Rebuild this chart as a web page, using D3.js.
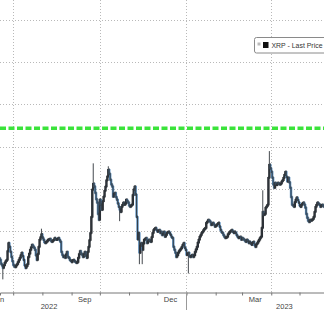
<!DOCTYPE html>
<html><head><meta charset="utf-8">
<script src="https://cdn.jsdelivr.net/npm/d3@7"></script>
<style>html,body{margin:0;padding:0;background:#fff;overflow:hidden}svg{display:block}</style>
</head><body>
<svg id="c" width="324" height="310"></svg>
<script>
// ---- data ----
const startDate = "2022-06-17";
const firstOpen = 0.335;
const closes = [
0.331,0.322,0.318,0.312,0.318,0.324,0.328,0.331,0.352,0.371,
0.362,0.350,0.338,0.328,0.319,0.316,0.314,0.318,0.321,0.326,
0.331,0.336,0.342,0.348,0.340,0.331,0.318,0.312,0.316,0.321,
0.338,0.346,0.355,0.361,0.367,0.363,0.360,0.355,0.342,0.331,
0.345,0.362,0.379,0.385,0.392,0.384,0.379,0.373,0.371,0.374,
0.376,0.379,0.380,0.381,0.376,0.374,0.377,0.379,0.383,0.380,
0.379,0.381,0.383,0.378,0.374,0.350,0.343,0.338,0.340,0.336,
0.344,0.350,0.338,0.336,0.331,0.329,0.326,0.330,0.331,0.328,
0.326,0.324,0.326,0.336,0.345,0.352,0.346,0.343,0.338,0.345,
0.350,0.341,0.336,0.350,0.362,0.378,0.395,0.433,0.498,0.512,
0.505,0.490,0.475,0.467,0.440,0.426,0.474,0.462,0.450,0.470,
0.481,0.495,0.505,0.520,0.529,0.545,0.535,0.521,0.510,0.505,
0.481,0.488,0.490,0.480,0.474,0.465,0.457,0.450,0.445,0.457,
0.462,0.467,0.462,0.465,0.474,0.470,0.467,0.460,0.457,0.460,
0.462,0.485,0.498,0.505,0.486,0.433,0.380,0.395,0.348,0.365,
0.371,0.355,0.370,0.379,0.381,0.383,0.371,0.375,0.379,0.376,
0.374,0.385,0.395,0.402,0.405,0.407,0.402,0.398,0.400,0.402,
0.395,0.398,0.390,0.393,0.398,0.386,0.390,0.395,0.397,0.398,
0.394,0.390,0.385,0.383,0.362,0.355,0.348,0.338,0.342,0.348,
0.352,0.355,0.358,0.362,0.367,0.371,0.360,0.355,0.343,0.345,
0.348,0.340,0.338,0.341,0.343,0.338,0.342,0.350,0.356,0.362,
0.372,0.379,0.386,0.390,0.395,0.398,0.402,0.405,0.407,0.419,
0.422,0.426,0.424,0.421,0.414,0.416,0.419,0.415,0.410,0.412,
0.414,0.417,0.419,0.410,0.402,0.397,0.395,0.390,0.386,0.383,
0.385,0.386,0.392,0.395,0.398,0.400,0.402,0.398,0.395,0.398,
0.395,0.390,0.386,0.383,0.385,0.386,0.379,0.383,0.381,0.379,
0.376,0.374,0.379,0.376,0.371,0.374,0.370,0.367,0.372,0.374,
0.366,0.362,0.368,0.371,0.375,0.379,0.383,0.386,0.407,0.445,
0.438,0.440,0.455,0.458,0.462,0.526,0.557,0.548,0.540,0.526,
0.510,0.502,0.514,0.510,0.510,0.514,0.512,0.510,0.512,0.517,
0.520,0.526,0.533,0.540,0.528,0.517,0.526,0.515,0.502,0.480,
0.462,0.460,0.457,0.468,0.474,0.479,0.473,0.467,0.460,0.457,
0.462,0.465,0.467,0.462,0.455,0.440,0.431,0.424,0.421,0.426,
0.425,0.426,0.428,0.433,0.445,0.457,0.462,0.467,0.464,0.462,
0.457,0.460,0.462,0.459,0.457
];
const wickHighs = [["2022-07-31",0.402],["2022-09-24",0.557],["2022-10-10",0.550],["2023-03-23",0.493],["2023-03-30",0.586]];
const wickLows  = [["2022-06-20",0.288],["2022-10-22",0.426],["2022-11-12",0.324],["2022-11-15",0.324],["2023-01-03",0.302]];
const gridValues = [0.3,0.4,0.5,0.6,0.7,0.8,0.9];
const levelLine = 0.643;
const monthTicks = ["2022-06-01","2022-07-01","2022-08-01","2022-09-01","2022-10-01","2022-11-01","2022-12-01","2023-01-01","2023-02-01","2023-03-01","2023-04-01","2023-05-01","2023-06-01"];
const gridDates = ["2022-07-01","2022-10-01","2023-01-01","2023-04-01"];
const monthLabels = [["Jun","2022-06-15"],["Sep","2022-09-15"],["Dec","2022-12-15"],["Mar","2023-03-15"]];
const yearLabels = [["2022","2022-08-08"],["2023","2023-04-15"]];
const yearBreaks = ["2023-01-01"];
const legendText = "XRP  -  Last Price";

// ---- build ----
const parse = d3.utcParse("%Y-%m-%d");
const t0 = parse(startDate);
const bars = closes.map((c,i)=>{
  const o = i===0 ? firstOpen : closes[i-1];
  return {date: d3.utcDay.offset(t0,i), open:o, close:c, high:Math.max(o,c), low:Math.min(o,c)};
});
const byKey = new Map(bars.map(b=>[d3.utcFormat("%Y-%m-%d")(b.date), b]));
wickHighs.forEach(([d,v])=>{const b=byKey.get(d); if(b) b.high=Math.max(b.high,v);});
wickLows.forEach(([d,v])=>{const b=byKey.get(d); if(b) b.low=Math.min(b.low,v);});

const W=324,H=310;
const svg=d3.select("#c");
const x=d3.scaleUtc().domain([parse("2022-06-17"),parse("2023-05-27")]).range([0,W]);
const y=d3.scaleLinear().domain([0.3,0.9]).range([273,20]);
const axisY=292.5;
const font="'Liberation Sans', Arial, sans-serif";

// grid
svg.append("g").selectAll("line").data(gridValues).join("line")
  .attr("x1",0).attr("x2",W).attr("y1",d=>Math.round(y(d))+0.5).attr("y2",d=>Math.round(y(d))+0.5)
  .attr("stroke","#b9b9b9").attr("stroke-width",1).attr("stroke-dasharray","1,2");
svg.append("g").selectAll("line").data(gridDates).join("line")
  .attr("x1",d=>Math.round(x(parse(d)))+0.5).attr("x2",d=>Math.round(x(parse(d)))+0.5)
  .attr("y1",0).attr("y2",axisY)
  .attr("stroke","#b9b9b9").attr("stroke-width",1).attr("stroke-dasharray","1,2");

// level line
svg.append("line").attr("x1",0).attr("x2",W).attr("y1",y(levelLine)).attr("y2",y(levelLine))
  .attr("stroke","#3be33b").attr("stroke-width",3.5).attr("stroke-dasharray","6,2.5");

// candles
const g=svg.append("g");
g.selectAll("rect").data(bars).join("rect")
  .attr("x",d=>x(d.date)-1.2).attr("width",2.4)
  .attr("y",d=>y(Math.max(d.open,d.close))-0.7)
  .attr("height",d=>Math.max(1,Math.abs(y(d.open)-y(d.close)))+1.4)
  .attr("fill",d=>d.close>=d.open?"#2a2e33":"#5b8fbf");
g.selectAll("line.w").data(bars).join("line").attr("class","w")
  .attr("x1",d=>x(d.date)).attr("x2",d=>x(d.date))
  .attr("y1",d=>y(d.high)-1.3).attr("y2",d=>y(d.low)+1.3)
  .attr("stroke","#30353b").attr("stroke-width",0.9);

// axis
const ax=d3.axisBottom(x).tickValues(monthTicks.map(parse)).tickSize(3).tickFormat("");
const axg=svg.append("g").attr("transform",`translate(0,${axisY})`).call(ax);
axg.select(".domain").attr("stroke","#777");
axg.selectAll(".tick line").attr("stroke","#777");
svg.append("g").selectAll("line").data(yearBreaks).join("line")
  .attr("x1",d=>Math.round(x(parse(d)))+0.5).attr("x2",d=>Math.round(x(parse(d)))+0.5)
  .attr("y1",axisY).attr("y2",H).attr("stroke","#999");
svg.append("g").selectAll("text").data(monthLabels).join("text")
  .attr("x",d=>x(parse(d[1]))).attr("y",301.5).attr("text-anchor","middle")
  .attr("font-family",font).attr("font-size",7.5).attr("fill","#444").text(d=>d[0]);
svg.append("g").selectAll("text").data(yearLabels).join("text")
  .attr("x",d=>x(parse(d[1]))).attr("y",308.5).attr("text-anchor","middle")
  .attr("font-family",font).attr("font-size",7.5).attr("fill","#444").text(d=>d[0]);

// legend
const lg=svg.append("g");
lg.append("rect").attr("x",254.5).attr("y",37.5).attr("width",90).attr("height",15.5).attr("rx",2)
  .attr("fill","#fff").attr("stroke","#8a8a8a");
lg.append("rect").attr("x",257.5).attr("y",42.5).attr("width",3).attr("height",3).attr("fill","#bbb");
lg.append("rect").attr("x",263).attr("y",42).attr("width",5.5).attr("height",6).attr("fill","#111");
lg.append("text").attr("x",271.5).attr("y",48.3).attr("font-family",font).attr("font-size",7.5)
  .attr("textLength",51).attr("lengthAdjust","spacingAndGlyphs")
  .attr("fill","#333").text(legendText);
</script>
</body></html>
